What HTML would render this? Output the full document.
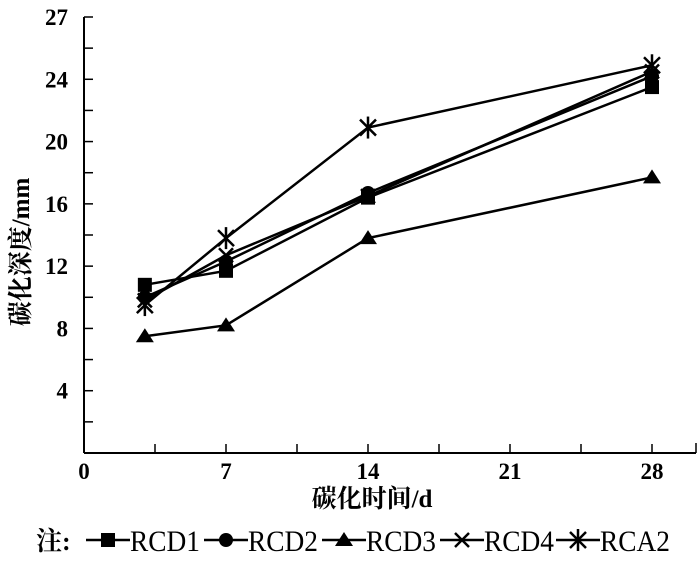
<!DOCTYPE html>
<html><head><meta charset="utf-8">
<style>
body{margin:0;background:#fff;}
svg text{font-family:"Liberation Serif","Noto Serif CJK SC",serif;font-weight:bold;fill:#000;}
</style></head>
<body>
<svg id="chart" width="700" height="556" xmlns="http://www.w3.org/2000/svg">
</svg>
<script>
const xDays=[3,7,14,28];
const seriesNames=["RCD1","RCD2","RCD3","RCD4","RCA2"];
const rcd1=[10.8,11.7,16.4,23.5];
const rcd2=[10.0,12.3,16.7,24.2];
const rcd3=[7.5,8.2,13.8,17.7];
const rcd4=[9.8,12.7,16.5,24.5];
const rca2=[9.5,13.8,20.9,24.9];
const markers=["square","circle","triangle","cross","star"];
const xTicks=[0,7,14,21,28];
const yTickVals=[4,8,12,16,20,24,28];
const yTickLabels=["4","8","12","16","20","24","27"];

const svg=document.getElementById('chart');
const NS="http://www.w3.org/2000/svg";
const X0=84,X28=652,Y0=453,Y28=17;
const sx=v=>X0+(X28-X0)*v/28;
const sy=v=>Y0-(Y0-Y28)*v/28;
function mk(tag,attrs,parent){const e=document.createElementNS(NS,tag);for(const k in attrs)e.setAttribute(k,attrs[k]);(parent||svg).appendChild(e);return e;}

const ax=mk('g',{});


mk('line',{x1:X0,y1:Y28,x2:X0,y2:Y0,stroke:'#000','stroke-width':2},ax);
mk('line',{x1:X0,y1:Y0,x2:696,y2:Y0,stroke:'#000','stroke-width':2},ax);
mk('line',{x1:696,y1:Y0,x2:696,y2:Y0-10,stroke:'#000','stroke-width':1.5},ax);
for(let v=2;v<=28;v+=2){mk('line',{x1:X0,y1:sy(v),x2:X0+9,y2:sy(v),stroke:'#000','stroke-width':1.5},ax);}
for(let v=3.5;v<=28;v+=3.5){mk('line',{x1:sx(v),y1:Y0,x2:sx(v),y2:Y0-9,stroke:'#000','stroke-width':1.5},ax);}
yTickVals.forEach((v,i)=>{const t=mk('text',{x:X0-16,y:sy(v)+8,'text-anchor':'end','font-size':23},ax);t.textContent=yTickLabels[i];

});
xTicks.forEach(v=>{const t=mk('text',{x:sx(v),y:Y0+26,'text-anchor':'middle','font-size':23},ax);t.textContent=v;

});
const xt=mk('text',{x:372,y:507,'text-anchor':'middle','font-size':25});xt.textContent='碳化时间/d';


const yt=mk('text',{x:0,y:0,'text-anchor':'middle','font-size':25,transform:'translate(29,252) rotate(-90)'});yt.textContent='碳化深度/mm';



function marker(type,x,y,g){
  if(type==='square')mk('rect',{x:x-7,y:y-7,width:14,height:14,fill:'#000'},g);
  else if(type==='circle')mk('circle',{cx:x,cy:y,r:7,fill:'#000'},g);
  else if(type==='triangle')mk('polygon',{points:`${x},${y-8} ${x+9},${y+6} ${x-9},${y+6}`,fill:'#000'},g);
  else if(type==='cross'){mk('line',{x1:x-7,y1:y-7,x2:x+7,y2:y+7,stroke:'#000','stroke-width':2.5},g);mk('line',{x1:x-7,y1:y+7,x2:x+7,y2:y-7,stroke:'#000','stroke-width':2.5},g);}
  else {mk('line',{x1:x-8,y1:y-8,x2:x+8,y2:y+8,stroke:'#000','stroke-width':2.5},g);mk('line',{x1:x-8,y1:y+8,x2:x+8,y2:y-8,stroke:'#000','stroke-width':2.5},g);mk('line',{x1:x,y1:y-11,x2:x,y2:y+11,stroke:'#000','stroke-width':2.5},g);}
}
[rcd1,rcd2,rcd3,rcd4,rca2].forEach((vals,si)=>{
  const g=mk('g',{});
  
  
  mk('polyline',{points:vals.map((v,i)=>sx(xDays[i])+','+sy(v)).join(' '),fill:'none',stroke:'#000','stroke-width':2.5},g);
  vals.forEach((v,i)=>marker(markers[si],sx(xDays[i]),sy(v),g));
});

const lg=mk('g',{});


const nt=mk('text',{x:36,y:550,'font-size':26},lg);nt.textContent='注:';
const lx=[86,204,322,440,556];
seriesNames.forEach((n,i)=>{
  const g=mk('g',{},lg);
  
  
  const x=lx[i],y=540;
  mk('line',{x1:x,y1:y,x2:x+44,y2:y,stroke:'#000','stroke-width':2.5},g);
  marker(markers[i],x+22,y,g);
  const t=mk('text',{x:x+44,y:551,'font-size':30,textLength:70,lengthAdjust:'spacingAndGlyphs'},g);t.textContent=n;
  t.style.fontWeight='normal';
});
</script>
</body></html>
